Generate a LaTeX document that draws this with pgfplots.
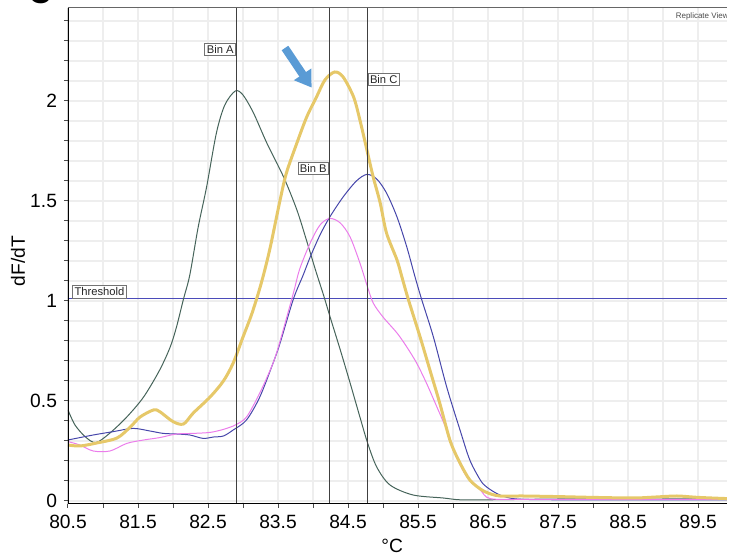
\documentclass[border=0pt]{standalone}
\usepackage{fontspec}
\setmainfont{Liberation Sans}
\usepackage{pgfplots}
\pgfplotsset{compat=1.18}
\usetikzlibrary{arrows.meta}

\definecolor{gridc}{RGB}{238,238,238}
\definecolor{binA}{RGB}{70,100,90}
\definecolor{navy}{RGB}{70,70,170}
\definecolor{pinkc}{RGB}{235,125,235}
\definecolor{yell}{RGB}{230,200,105}
\definecolor{thr}{RGB}{75,75,185}
\definecolor{arrowc}{RGB}{90,155,213}

\begin{document}
\begin{tikzpicture}
\begin{axis}[
    at={(0,0)}, anchor=south west,
    scale only axis,
    width=329.5pt, height=248pt,
    xmin=80.5, xmax=89.914,
    ymin=-0.015, ymax=2.465,
    xtick={80.5,81.5,...,89.5},
    xticklabels={80.5,81.5,82.5,83.5,84.5,85.5,86.5,87.5,88.5,89.5},
    minor xtick={81,82,...,89},
    ytick={0,0.5,1,1.5,2},
    yticklabels={0,0.5,1,1.5,2},
    minor ytick={0.1,0.2,0.3,0.4,0.6,0.7,0.8,0.9,1.1,1.2,1.3,1.4,1.6,1.7,1.8,1.9,2.1,2.2,2.3,2.4},
    grid=both,
    major grid style={gridc, line width=0.7pt},
    minor grid style={gridc, line width=0.7pt},
    tick pos=left,
    tick align=outside,
    major tick length=2pt, minor tick length=2pt,
    tick style={black!70, line width=0.5pt},
    axis line style={draw=none},
    tick label style={font=\fontsize{9.6}{11}\selectfont},
    /pgf/number format/assume math mode=true,
    xlabel={°C},
    ylabel={dF/dT},
    label style={font=\fontsize{9.6}{11}\selectfont},
    xlabel style={at={(axis description cs:0.492,-0.085)}, anchor=center},
    ylabel style={at={(axis description cs:-0.076,0.49)}, anchor=center},
    clip=true,
]

% threshold
\addplot[thr, line width=0.7pt] coordinates {(80.5,1.013) (89.914,1.013)};

% Bin A curve
\addplot[binA, line width=0.5pt, smooth] coordinates {
(80.5,0.455) (80.6,0.38) (80.75,0.32) (80.9,0.292) (81.1,0.34) (81.34,0.42)
(81.58,0.52) (81.81,0.655) (81.96,0.77) (82.05,0.87) (82.15,1.01) (82.24,1.13)
(82.36,1.37) (82.48,1.57) (82.62,1.84) (82.74,1.98) (82.89,2.05) (83.0,2.03)
(83.15,1.94) (83.34,1.79) (83.58,1.62) (83.77,1.455) (83.91,1.3) (84.04,1.15)
(84.15,1.03) (84.24,0.925) (84.39,0.755) (84.53,0.59) (84.67,0.42) (84.78,0.29)
(84.91,0.17) (85.1,0.08) (85.43,0.03) (85.86,0.015) (86.1,0.006) (86.5,0.006)
(87,0.008) (87.5,0.01) (88,0.01) (88.5,0.008) (89,0.01) (89.5,0.01) (89.914,0.01)
};

% Bin C curve
\addplot[navy, line width=0.5pt, smooth] coordinates {
(80.5,0.305) (80.86,0.33) (81.15,0.347) (81.43,0.363) (81.67,0.35) (81.86,0.338)
(82.05,0.335) (82.24,0.33) (82.43,0.313) (82.58,0.32) (82.72,0.325) (82.86,0.355)
(83.05,0.405) (83.24,0.52) (83.43,0.69) (83.53,0.79) (83.72,1.01) (83.86,1.13)
(83.96,1.22) (84.1,1.33) (84.24,1.42) (84.43,1.52) (84.62,1.6) (84.77,1.633)
(84.91,1.61) (85.05,1.54) (85.2,1.42) (85.34,1.27) (85.45,1.13) (85.55,1.01)
(85.72,0.82) (85.91,0.57) (86.1,0.355) (86.24,0.205) (86.39,0.105) (86.48,0.07)
(86.67,0.03) (86.91,0.01) (87.5,0.006) (88.5,0.006) (89.914,0.006)
};

% Bin B curve
\addplot[pinkc, line width=0.5pt, smooth] coordinates {
(80.5,0.297) (80.67,0.28) (80.86,0.25) (81.1,0.25) (81.34,0.288) (81.58,0.305)
(81.81,0.317) (82.05,0.335) (82.29,0.338) (82.53,0.343) (82.72,0.358) (82.89,0.38)
(83.05,0.42) (83.24,0.54) (83.43,0.69) (83.53,0.8) (83.72,1.04) (83.81,1.16)
(83.96,1.29) (84.1,1.38) (84.24,1.413) (84.39,1.39) (84.53,1.32) (84.67,1.19)
(84.77,1.08) (84.86,0.99) (85.0,0.92) (85.2,0.84) (85.34,0.77) (85.48,0.69)
(85.62,0.59) (85.77,0.47) (85.91,0.355) (86.05,0.22) (86.2,0.12) (86.39,0.055)
(86.53,0.012) (87,0.008) (88,0.008) (89.914,0.008)
};

% highlighted curve
\addplot[yell, line width=1.5pt, smooth] coordinates {
(80.5,0.28) (80.67,0.275) (80.91,0.29) (81.2,0.315) (81.39,0.37) (81.53,0.42)
(81.72,0.455) (81.81,0.447) (82.0,0.397) (82.15,0.385) (82.29,0.44) (82.53,0.52)
(82.72,0.6) (82.86,0.69) (83.0,0.82) (83.12,0.93) (83.22,1.04) (83.3,1.14)
(83.39,1.27) (83.53,1.505) (83.62,1.64) (83.77,1.79) (83.91,1.92) (84.05,2.02)
(84.17,2.105) (84.31,2.145) (84.43,2.12) (84.58,2.02) (84.67,1.905) (84.77,1.755)
(84.86,1.62) (84.96,1.49) (85.05,1.34) (85.2,1.205) (85.27,1.12) (85.36,1.01)
(85.53,0.82) (85.67,0.655) (85.81,0.49) (85.96,0.3) (86.1,0.19) (86.24,0.105)
(86.39,0.06) (86.5,0.04) (86.67,0.025) (87,0.025) (87.5,0.022) (88,0.018)
(88.58,0.015) (88.9,0.02) (89.2,0.025) (89.5,0.018) (89.914,0.012)
};

% bin lines
\addplot[black!75, line width=0.5pt] coordinates {(82.9,-0.015) (82.9,2.465)};
\addplot[black!75, line width=0.5pt] coordinates {(84.23,-0.015) (84.23,2.465)};
\addplot[black!75, line width=0.5pt] coordinates {(84.78,-0.015) (84.78,2.465)};

% labels
\begin{scope}[every node/.style={draw=black!55, fill=white, line width=0.4pt,
    inner sep=1pt, font=\fontsize{5.6}{6}\selectfont, text=black!85}]
\node[anchor=north east] at (axis cs:82.9,2.29) {Bin A};
\node[anchor=north east] at (axis cs:84.23,1.695) {Bin B};
\node[anchor=north west] at (axis cs:84.78,2.14) {Bin C};
\node[anchor=south west] at (axis cs:80.56,1.013) {Threshold};
\end{scope}

\draw[arrowc, line width=4pt, -{Triangle[width=10pt,length=8pt]}]
  (axis cs:83.6,2.265) -- (axis cs:83.98,2.067);

\node[anchor=north east, inner sep=0pt, font=\fontsize{4}{5}\selectfont, text=black!70]
  at ([xshift=1pt,yshift=-2pt]rel axis cs:1,1) {Replicate View};

% axis frame
\draw[black!60, line width=0.5pt] (rel axis cs:0,1) -- (rel axis cs:1,1);
\draw[black, line width=1pt] (rel axis cs:0,1) -- (rel axis cs:0,0) -- (rel axis cs:1,0);
\end{axis}
\node[anchor=south, inner sep=0pt, font=\fontsize{16}{16}\bfseries] at (-14pt,250pt) {C};
\pgfresetboundingbox
\path (-34pt,-26pt) rectangle (330.5pt,252pt);
\end{tikzpicture}
\end{document}
